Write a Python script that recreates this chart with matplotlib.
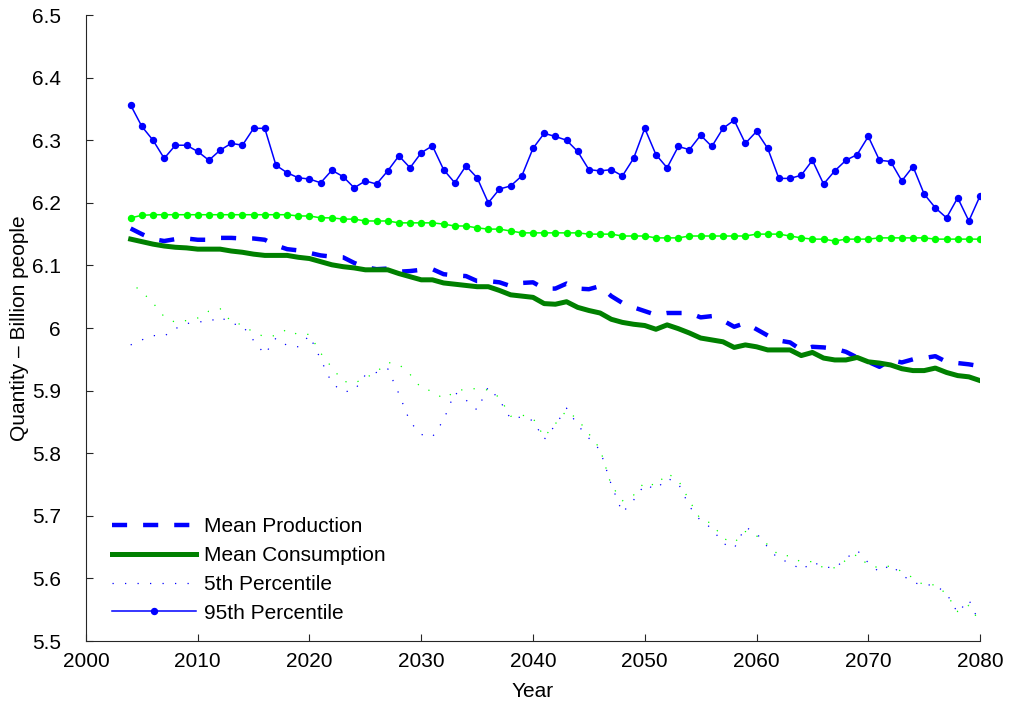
import matplotlib
matplotlib.use("Agg")
import matplotlib.pyplot as plt
from matplotlib.ticker import FuncFormatter

plt.rcParams['font.family'] = ['Liberation Sans', 'DejaVu Sans']

years = list(range(2004, 2081))

mean_production = [
    6.159, 6.150, 6.142, 6.139, 6.142, 6.143, 6.141, 6.141, 6.144, 6.144,
    6.143, 6.143, 6.141, 6.132, 6.126, 6.124, 6.120, 6.116, 6.114, 6.113,
    6.104, 6.097, 6.094, 6.095, 6.090, 6.091, 6.093, 6.094, 6.086, 6.084,
    6.083, 6.075, 6.075, 6.073, 6.067, 6.072, 6.073, 6.063, 6.063, 6.071,
    6.063, 6.062, 6.067, 6.051, 6.040, 6.033, 6.027, 6.021, 6.024, 6.024,
    6.024, 6.017, 6.019, 6.012, 6.002, 6.008, 5.998, 5.988, 5.980, 5.977,
    5.965, 5.970, 5.969, 5.967, 5.962, 5.953, 5.946, 5.938, 5.949, 5.945,
    5.950, 5.952, 5.955, 5.946, 5.944, 5.942, 5.939,
]

mean_consumption = [
    6.142, 6.138, 6.134, 6.131, 6.129, 6.128, 6.126, 6.126, 6.126, 6.123,
    6.121, 6.118, 6.116, 6.116, 6.116, 6.113, 6.111, 6.106, 6.101, 6.098,
    6.096, 6.093, 6.093, 6.093, 6.087, 6.082, 6.077, 6.077, 6.072, 6.070,
    6.068, 6.066, 6.066, 6.060, 6.053, 6.051, 6.049, 6.039, 6.038, 6.042,
    6.033, 6.028, 6.024, 6.014, 6.009, 6.006, 6.004, 5.998, 6.005, 5.999,
    5.992, 5.984, 5.981, 5.978, 5.969, 5.973, 5.970, 5.965, 5.965, 5.965,
    5.956, 5.961, 5.952, 5.949, 5.949, 5.953, 5.946, 5.944, 5.941, 5.935,
    5.932, 5.932, 5.936, 5.929, 5.924, 5.922, 5.916,
]

prod_p5 = [
    5.973, 5.981, 5.988, 5.987, 5.999, 6.007, 6.010, 6.010, 6.018, 6.007,
    6.004, 5.980, 5.958, 5.984, 5.972, 5.970, 5.988, 5.950, 5.912, 5.898,
    5.900, 5.925, 5.929, 5.935, 5.895, 5.850, 5.830, 5.826, 5.853, 5.897,
    5.885, 5.869, 5.906, 5.885, 5.855, 5.858, 5.852, 5.822, 5.845, 5.872,
    5.845, 5.824, 5.805, 5.750, 5.705, 5.725, 5.750, 5.742, 5.760, 5.752,
    5.715, 5.692, 5.680, 5.656, 5.648, 5.682, 5.672, 5.650, 5.630, 5.626,
    5.613, 5.626, 5.619, 5.616, 5.632, 5.645, 5.625, 5.610, 5.622, 5.606,
    5.593, 5.590, 5.589, 5.576, 5.545, 5.566, 5.527,
]

prod_p95 = [
    6.356, 6.322, 6.300, 6.271, 6.292, 6.292, 6.282, 6.268, 6.284, 6.295,
    6.292, 6.319, 6.319, 6.260, 6.248, 6.240, 6.238, 6.232, 6.252, 6.242,
    6.224, 6.235, 6.230, 6.251, 6.275, 6.256, 6.280, 6.291, 6.253, 6.232,
    6.259, 6.240, 6.200, 6.222, 6.227, 6.243, 6.287, 6.311, 6.306, 6.300,
    6.282, 6.253, 6.251, 6.253, 6.243, 6.271, 6.319, 6.277, 6.256, 6.290,
    6.285, 6.308, 6.290, 6.319, 6.332, 6.295, 6.314, 6.287, 6.239, 6.239,
    6.244, 6.268, 6.230, 6.251, 6.268, 6.277, 6.306, 6.268, 6.266, 6.235,
    6.258, 6.214, 6.192, 6.176, 6.208, 6.171, 6.211,
]

cons_p5 = [
    6.072, 6.058, 6.040, 6.018, 6.009, 6.012, 6.016, 6.027, 6.031, 6.010,
    6.005, 5.993, 5.986, 5.988, 5.998, 5.989, 5.990, 5.960, 5.937, 5.915,
    5.912, 5.920, 5.930, 5.945, 5.942, 5.926, 5.904, 5.899, 5.887, 5.898,
    5.903, 5.903, 5.901, 5.889, 5.859, 5.861, 5.856, 5.826, 5.847, 5.868,
    5.854, 5.831, 5.807, 5.749, 5.724, 5.733, 5.754, 5.748, 5.768, 5.757,
    5.724, 5.694, 5.688, 5.664, 5.657, 5.675, 5.668, 5.654, 5.637, 5.636,
    5.626, 5.627, 5.617, 5.617, 5.629, 5.638, 5.621, 5.617, 5.620, 5.611,
    5.601, 5.589, 5.590, 5.575, 5.547, 5.557, 5.530,
]

cons_p95 = [
    6.176, 6.180, 6.181, 6.181, 6.181, 6.181, 6.181, 6.181, 6.181, 6.181,
    6.181, 6.181, 6.181, 6.181, 6.181, 6.179, 6.179, 6.176, 6.176, 6.174,
    6.174, 6.171, 6.171, 6.171, 6.168, 6.168, 6.168, 6.168, 6.166, 6.163,
    6.163, 6.160, 6.158, 6.158, 6.155, 6.152, 6.152, 6.152, 6.152, 6.152,
    6.152, 6.150, 6.150, 6.150, 6.147, 6.147, 6.147, 6.144, 6.144, 6.144,
    6.147, 6.147, 6.147, 6.147, 6.147, 6.147, 6.150, 6.150, 6.150, 6.147,
    6.144, 6.142, 6.142, 6.139, 6.142, 6.142, 6.142, 6.144, 6.144, 6.144,
    6.144, 6.144, 6.142, 6.142, 6.142, 6.142, 6.142,
]

x_ticks = list(range(2000, 2081, 10))
y_ticks = [5.5, 5.6, 5.7, 5.8, 5.9, 6.0, 6.1, 6.2, 6.3, 6.4, 6.5]

BLUE = (0, 0, 1)
DARK_GREEN = (0, 0.5, 0)
LIME = (0, 1, 0)
FS = 15

fig = plt.figure(figsize=(10.09, 7.09), dpi=100)
ax = fig.add_axes([0.0852, 0.0959, 0.8861, 0.8829])

ax.plot(years, mean_production, color=BLUE, lw=3.2,
        linestyle=(0, (3.4, 3.6)), label='Mean Production', zorder=3)
ax.plot(years, mean_consumption, color=DARK_GREEN, lw=3.6,
        label='Mean Consumption', zorder=3)
ax.plot(years, prod_p5, color=BLUE, lw=0.9, linestyle=(0, (1, 9)),
        label='5th Percentile', zorder=2)
ax.plot(years, prod_p95, color=BLUE, lw=1.1, marker='o', markersize=4.3,
        label='95th Percentile', zorder=2)
ax.plot(years, cons_p5, color=LIME, lw=0.9, linestyle=(4, (1, 9)), zorder=2)
ax.plot(years, cons_p95, color=LIME, lw=1.1, marker='o', markersize=4.3,
        zorder=2)

ax.set_xlim(2000, 2080)
ax.set_ylim(5.5, 6.5)
ax.set_xticks(x_ticks)
ax.set_yticks(y_ticks)
ax.yaxis.set_major_formatter(FuncFormatter(lambda v, p: f'{v:g}'))

for side in ('top', 'right'):
    ax.spines[side].set_visible(False)
for side in ('left', 'bottom'):
    ax.spines[side].set_color('#262626')
    ax.spines[side].set_linewidth(0.8)

ax.tick_params(direction='in', length=5, width=0.8, colors='#262626',
               labelsize=FS, labelcolor='black')
ax.tick_params(axis='y', pad=18)
ax.tick_params(axis='x', pad=8)

ax.set_xlabel('Year', fontsize=FS, labelpad=8)
ax.set_ylabel('Quantity \u2013 Billion people', fontsize=FS, labelpad=2)

ax.legend(loc='lower left', bbox_to_anchor=(0.02, 0.016), frameon=False,
          fontsize=FS, handlelength=4.0, handletextpad=0.4,
          labelspacing=0.47, borderaxespad=0.0)

fig.savefig('out.png', dpi=100)
